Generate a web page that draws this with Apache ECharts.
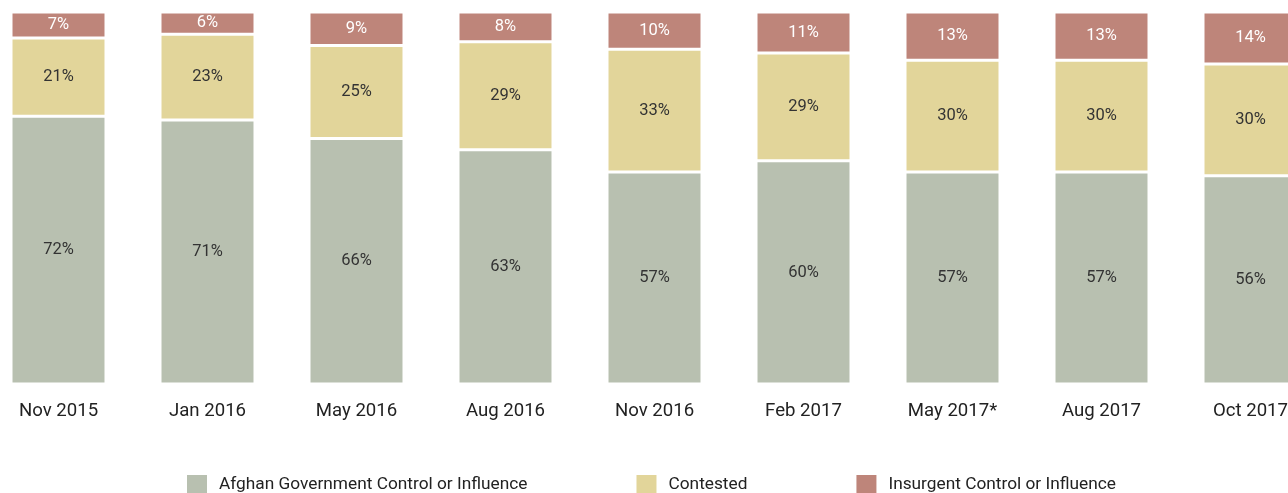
<!DOCTYPE html>
<html>
<head>
<meta charset="utf-8">
<script src="https://cdn.jsdelivr.net/npm/echarts@6/dist/echarts.min.js"></script>
<style>
html, body { margin: 0; padding: 0; background: #fff; }
#chart { width: 1288px; height: 493px; }
</style>
</head>
<body>
<div id="chart"></div>
<script>
// 数据
var months = ['Nov 2015', 'Jan 2016', 'May 2016', 'Aug 2016', 'Nov 2016', 'Feb 2017', 'May 2017*', 'Aug 2017', 'Oct 2017'];
var government = [72, 71, 66, 63, 57, 60, 57, 57, 56];
var contested = [21, 23, 25, 29, 33, 29, 30, 30, 30];
var insurgent = [7, 6, 9, 8, 10, 11, 13, 13, 14];

var FONT = 'Roboto, "Liberation Sans", sans-serif';

function makeSeries(name, data, color, labelColor) {
    return {
        name: name,
        type: 'bar',
        stack: 'total',
        barWidth: 95,
        data: data,
        itemStyle: {
            color: color,
            borderColor: '#fff',
            borderWidth: 1.5
        },
        label: {
            show: true,
            position: 'inside',
            formatter: '{c}%',
            color: labelColor,
            fontFamily: FONT,
            fontSize: 16.5
        }
    };
}

var myChart = echarts.init(document.getElementById('chart'));
var option = {
    animation: false,
    backgroundColor: '#fff',
    grid: {
        left: -16,
        right: -37,
        top: 12,
        bottom: 109,
        containLabel: false,
        outerBoundsMode: 'none'
    },
    legend: {
        left: 185,
        top: 473,
        padding: 0,
        itemWidth: 22,
        itemHeight: 22,
        itemGap: 107,
        icon: 'rect',
        textStyle: {
            fontFamily: FONT,
            fontSize: 17.3,
            color: '#222',
            padding: [0, 0, 0, 6]
        },
        data: ['Afghan Government Control or Influence', 'Contested', 'Insurgent Control or Influence']
    },
    xAxis: {
        type: 'category',
        data: months,
        axisLine: { show: false },
        axisTick: { show: false },
        axisLabel: {
            margin: 18,
            color: '#222',
            fontFamily: FONT,
            fontSize: 18.6
        }
    },
    yAxis: {
        type: 'value',
        min: 0,
        max: 100,
        show: false,
        splitLine: { show: false }
    },
    series: [
        makeSeries('Afghan Government Control or Influence', government, '#b8c0b0', '#333'),
        makeSeries('Contested', contested, '#e2d59a', '#333'),
        makeSeries('Insurgent Control or Influence', insurgent, '#be857a', '#fff')
    ]
};
myChart.setOption(option);
</script>
</body>
</html>
